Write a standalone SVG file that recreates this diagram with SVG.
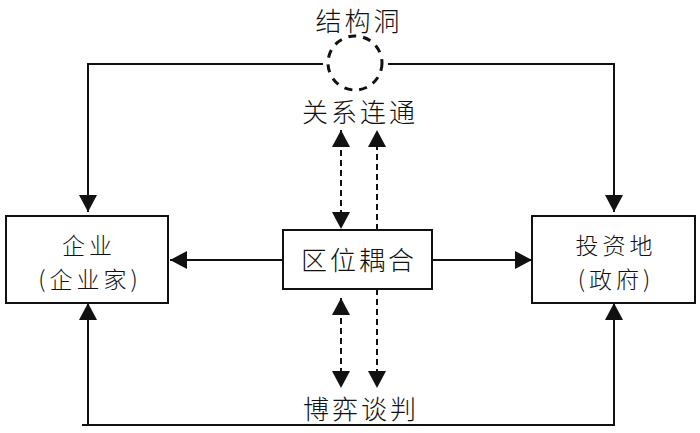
<svg xmlns="http://www.w3.org/2000/svg" width="700" height="433" viewBox="0 0 700 433">
<defs>
<marker id="ah" markerUnits="userSpaceOnUse" markerWidth="18" markerHeight="18" refX="17" refY="9" orient="auto-start-reverse">
<path d="M0,0 L17,9 L0,18 Z" fill="#111"/>
</marker>
<style>
.box{fill:#fff;stroke:#111;stroke-width:2}
.ln{fill:none;stroke:#111;stroke-width:2}
.ds{fill:none;stroke:#111;stroke-width:2;stroke-dasharray:6,4}
text{font-family:"Noto Sans CJK SC","Noto Sans CJK JP",sans-serif;font-size:26px;fill:#111;text-anchor:middle;font-weight:300;letter-spacing:3px}
.sm{font-size:23px;letter-spacing:4px}
</style>
</defs>
<rect width="700" height="433" fill="#fff"/>
<g id="connectors">
<path class="ln" d="M323,64 H88 V212" marker-end="url(#ah)"/>
<path class="ln" d="M388,64 H614 V212" marker-end="url(#ah)"/>
<path class="ln" d="M82,425 H88 M88,425 V303" marker-end="url(#ah)"/>
<path class="ln" d="M88,425 H614 V303" marker-end="url(#ah)"/>
<path class="ln" d="M283,260 H170" marker-end="url(#ah)"/>
<path class="ln" d="M432,260 H532" marker-end="url(#ah)"/>
<path class="ds" d="M341,130 V229" marker-start="url(#ah)" marker-end="url(#ah)"/>
<path class="ds" d="M377,230 V130" marker-end="url(#ah)"/>
<path class="ds" d="M341,298 V388" marker-start="url(#ah)" marker-end="url(#ah)"/>
<path class="ds" d="M377,289 V388" marker-end="url(#ah)"/>
<circle cx="355" cy="63" r="27" fill="none" stroke="#111" stroke-width="3" stroke-dasharray="8,7"/>
</g>
<g id="node-hole"><text x="359" y="31">结构洞</text></g>
<g id="label-relation"><text x="360" y="122">关系连通</text></g>
<g id="label-game"><text x="361" y="419">博弈谈判</text></g>
<g id="node-firm">
<rect class="box" x="6" y="216" width="162" height="87"/>
<text class="sm" x="89" y="254">企业</text>
<text class="sm" x="90" y="288">(企业家)</text>
</g>
<g id="node-coupling">
<rect class="box" x="283" y="230" width="149" height="59"/>
<text x="359" y="270">区位耦合</text>
</g>
<g id="node-host">
<rect class="box" x="532" y="216" width="163" height="87"/>
<text class="sm" x="616" y="254">投资地</text>
<text class="sm" x="616" y="288">(政府)</text>
</g>
</svg>
